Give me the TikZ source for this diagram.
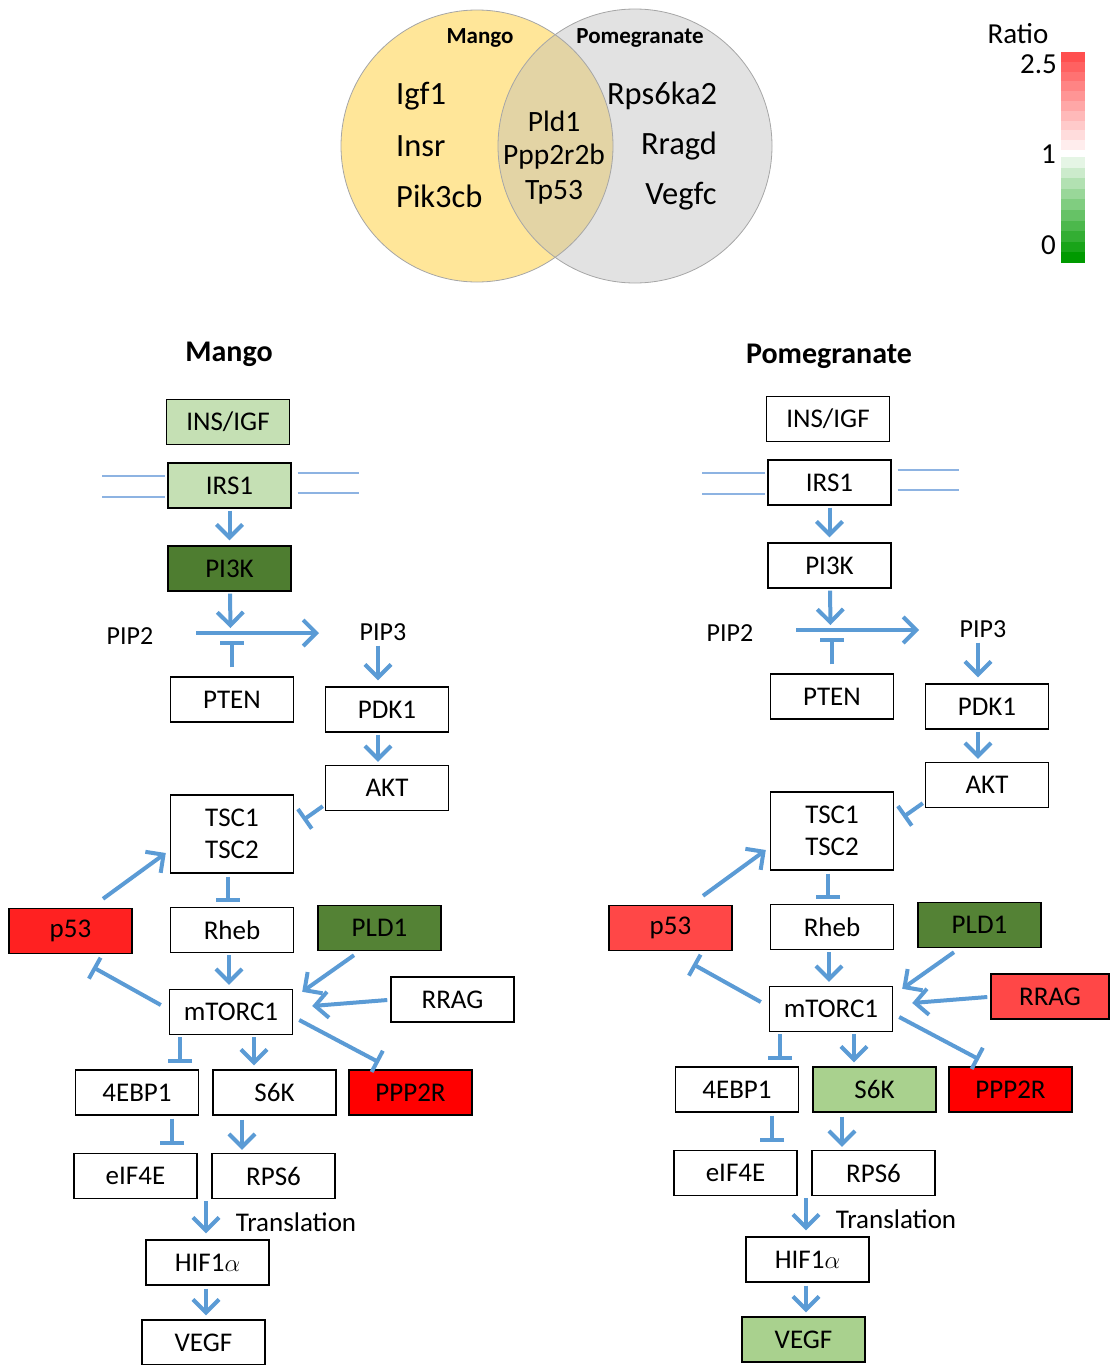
\documentclass[tikz,border=0pt]{standalone}
\usepackage{fontspec}
\setmainfont{Carlito}
\usetikzlibrary{arrows.meta,calc}
\definecolor{arrowblue}{HTML}{5B9BD5}
\definecolor{membrane}{HTML}{8DB3E2}
\definecolor{vennyellow}{HTML}{FFE699}
\definecolor{venngrey}{HTML}{E2E2E2}
\definecolor{venntan}{HTML}{E3D4A5}
\definecolor{lightgreen}{HTML}{C5E0B4}
\definecolor{midgreen}{HTML}{A9D18E}
\definecolor{darkgreen}{HTML}{548235}
\definecolor{darkergreen}{HTML}{4E7D30}
\definecolor{brightred}{HTML}{FF2121}
\definecolor{softred}{HTML}{FF4747}
\definecolor{purered}{HTML}{FF0000}
\definecolor{bartop}{HTML}{FF4F4F}
\definecolor{barbottom}{HTML}{009A00}
% mango colours
\colorlet{mcins}{lightgreen}\colorlet{mcirs}{lightgreen}\colorlet{mcpik}{darkergreen}
\colorlet{mcp53}{brightred}\colorlet{mcpld}{darkgreen}\colorlet{mcrrag}{white}
\colorlet{mcs6k}{white}\colorlet{mcppp}{purered}\colorlet{mcvegf}{white}
% pomegranate colours
\colorlet{pcins}{white}\colorlet{pcirs}{white}\colorlet{pcpik}{white}
\colorlet{pcp53}{softred}\colorlet{pcpld}{darkgreen}\colorlet{pcrrag}{softred}
\colorlet{pcs6k}{midgreen}\colorlet{pcppp}{purered}\colorlet{pcvegf}{midgreen}
\tikzset{
  box/.style={draw=black, line width=1.4pt, minimum width=123pt, minimum height=45pt,
    inner sep=0pt, align=center, text=black, font=\fontsize{27}{32}\selectfont},
  lbl/.style={inner sep=0pt, font=\fontsize{27}{30}\selectfont},
  piplbl/.style={inner sep=0pt, font=\fontsize{26}{30}\selectfont},
  sidetitle/.style={inner sep=0pt, font=\fontsize{30}{34}\selectfont\bfseries},
  act/.style={draw=arrowblue, line width=4pt, -{Straight Barb[length=13pt,width=26pt]}},
  inh/.style={draw=arrowblue, line width=4pt, -{Bar[width=24pt]}},
  memline/.style={draw=membrane, line width=1.2pt},
  mrrag/.style={},
  prrag/.style={minimum width=118pt, xshift=-2.5pt},
}
\newcommand\pathwayside[3]{% #1 prefix, #2 dx, #3 dy
  \node[box, fill=#1cins] (#1ins) at (228+#2, 422+#3) {INS/IGF};
  \node[box, fill=#1cirs] (#1irs) at (229.5+#2, 485.5+#3) {IRS1};
  \node[box, fill=#1cpik] (#1pik) at (229.5+#2, 568.5+#3) {PI3K};
  \node[box] (#1pten) at (232+#2, 699.5+#3) {PTEN};
  \node[box] (#1pdk) at (387+#2, 709.5+#3) {PDK1};
  \node[box] (#1akt) at (387+#2, 788+#3) {AKT};
  \node[box, minimum height=78pt] (#1tsc) at (232+#2, 834+#3) {TSC1\\TSC2};
  \node[box, fill=#1cp53] (#1p53) at (70.5+#2, 931+#3) {p53};
  \node[box] (#1rheb) at (232+#2, 930+#3) {Rheb};
  \node[box, fill=#1cpld] (#1pld) at (379.5+#2, 928+#3) {PLD1};
  \node[box, fill=#1crrag, #1rrag] (#1rrag) at (452.5+#2, 999.5+#3) {RRAG};
  \node[box] (#1mtor) at (231+#2, 1012+#3) {mTORC1};
  \node[box] (#1ebp) at (137+#2, 1092.5+#3) {4EBP1};
  \node[box, fill=#1cs6k] (#1s6k) at (274.5+#2, 1092.5+#3) {S6K};
  \node[box, fill=#1cppp] (#1ppp) at (410.5+#2, 1092.5+#3) {PPP2R};
  \node[box] (#1eif) at (135.5+#2, 1176+#3) {eIF4E};
  \node[box] (#1rps) at (273.5+#2, 1176+#3) {RPS6};
  \node[box] (#1hif) at (207.5+#2, 1262.5+#3) {HIF1$\alpha$};
  \node[box, fill=#1cvegf] (#1vegf) at (203.5+#2, 1342.5+#3) {VEGF};
  \node[piplbl] (#1pip2) at (130+#2, 636+#3) {PIP2};
  \node[piplbl] (#1pip3) at (383+#2, 632+#3) {PIP3};
  \node[lbl] (#1transl) at (296+#2, 1222+#3) {Translation};
  \coordinate (#1hs) at (196+#2, 633+#3);
  \coordinate (#1he) at (319+#2, 633+#3);
  \coordinate (#1tr) at (206+#2, 1201+#3);
  % membrane
  \draw[memline] ($(#1irs.west)+(-65,-9.5)$) -- ($(#1irs.west)+(-2,-9.5)$);
  \draw[memline] ($(#1irs.west)+(-65,11.5)$) -- ($(#1irs.west)+(-2,11.5)$);
  \draw[memline] ($(#1irs.east)+(6,-12.5)$) -- ($(#1irs.east)+(67,-12.5)$);
  \draw[memline] ($(#1irs.east)+(6,7.5)$) -- ($(#1irs.east)+(67,7.5)$);
  % connectors
  \draw[act] ($(#1irs.south)+(0,2)$) -- ($(#1pik.north)+(0,-5)$);
  \draw[act] ($(#1pik.south)+(0.5,2)$) -- ($(#1hs)+(34.5,-5)$);
  \draw[act] (#1hs) -- (#1he);
  \draw[inh] ($(#1pten.north)+(0,-9)$) -- ($(#1pten.north)+(0,-35)$);
  \draw[act] ($(#1pip3.south)+(-5,5)$) -- ($(#1pdk.north)+(-9,-6)$);
  \draw[act] ($(#1pdk.south)+(-9,2)$) -- ($(#1akt.north)+(-9,-3)$);
  \draw[inh] ($(#1akt.south west)+(-2,-5)$) -- ($(#1tsc.east)+(9,-14)$);
  \draw[act] ($(#1p53.north)+(32.5,-9)$) -- ($(#1tsc.west)+(-4,19)$);
  \draw[inh] ($(#1tsc.south)+(-4,3)$) -- ($(#1rheb.north)+(-4,-5)$);
  \draw[act] ($(#1rheb.south)+(-3,2)$) -- ($(#1mtor.north)+(-2,-4)$);
  \draw[act] ($(#1pld.south)+(-25.5,4)$) -- ($(#1mtor.north east)+(9,3)$);
  \draw[act] ($(#1rrag.west)+(-3,0.5)$) -- ($(#1mtor.east)+(19,-6)$);
  \draw[inh] ($(#1mtor.west)+(-8,-7)$) -- ($(#1p53.south)+(22.5,13)$);
  \draw[inh] ($(#1mtor.east)+(6,8)$) -- ($(#1ppp.north)+(-31.5,-7)$);
  \draw[inh] ($(#1mtor.south)+(-51,2)$) -- ($(#1ebp.north)+(43,-6)$);
  \draw[act] ($(#1mtor.south)+(23,2)$) -- ($(#1s6k.north)+(-20.5,-4)$);
  \draw[inh] ($(#1ebp.south)+(35,3)$) -- ($(#1eif.north)+(36.5,-8)$);
  \draw[act] ($(#1s6k.south)+(-32.5,4)$) -- ($(#1rps.north)+(-31.5,-3)$);
  \draw[act] (#1tr) -- ($(#1hif.north)+(-1.5,-6)$);
  \draw[act] ($(#1hif.south)+(-1.5,3)$) -- ($(#1vegf.north)+(2.5,-4)$);
}
\begin{document}
\begin{tikzpicture}[x=1pt,y=-1pt]
\useasboundingbox (0,0) rectangle (1110,1365);
% ---------- Venn diagram ----------
\coordinate (vennL) at (477,146);
\coordinate (vennR) at (635,146);
\fill[vennyellow] (vennL) circle[radius=136pt];
\fill[venngrey] (vennR) circle[radius=137pt];
\begin{scope}
  \clip (vennL) circle[radius=136pt];
  \fill[venntan] (vennR) circle[radius=137pt];
\end{scope}
\draw[gray!70, line width=0.8pt] (vennL) circle[radius=136pt];
\draw[gray!70, line width=0.8pt] (vennR) circle[radius=137pt];
\node[inner sep=0pt, font=\fontsize{23}{26}\selectfont\bfseries] (vMango) at (480,38) {Mango};
\node[inner sep=0pt, font=\fontsize{23}{26}\selectfont\bfseries] (vPome) at (640,38) {Pomegranate};
\tikzset{venntext/.style={inner sep=0pt, font=\fontsize{32.5}{36}\selectfont},
  venninner/.style={inner sep=0pt, font=\fontsize{29.5}{34}\selectfont}}
\node[venntext, anchor=west] (vIgf) at (396,96) {Igf1};
\node[venntext, anchor=west] (vInsr) at (396,146) {Insr};
\node[venntext, anchor=west] (vPik) at (396,196) {Pik3cb};
\node[venninner] (vPld) at (554,121) {Pld1};
\node[venninner] (vPpp) at (554,157) {Ppp2r2b};
\node[venninner] (vTp) at (554,192) {Tp53};
\node[venntext] (vRps) at (662,96) {Rps6ka2};
\node[venntext] (vRragd) at (679,146) {Rragd};
\node[venntext] (vVegfc) at (681,196) {Vegfc};
% ---------- colour bar ----------
\foreach \i in {0,...,9} {
  \pgfmathsetmacro\pct{100-10*\i}
  \fill[bartop!\pct!white] (1061,52+9.8*\i) rectangle (1085,52+9.8*\i+9.9);
  \pgfmathsetmacro\pcg{10+10*\i}
  \fill[barbottom!\pcg!white] (1061,157+10.6*\i) rectangle (1085,157+10.6*\i+10.7);
}
\tikzset{barlbl/.style={inner sep=0pt, font=\fontsize{29}{32}\selectfont}}
\node[barlbl] (ratio) at (1018,34) {Ratio};
\node[barlbl, anchor=east] (r25) at (1057,64) {2.5};
\node[barlbl, anchor=east] (r1) at (1056,154) {1};
\node[barlbl, anchor=east] (r0) at (1056,245) {0};
% ---------- pathways ----------
\node[sidetitle] (mtitle) at (229,354) {Mango};
\node[sidetitle] (ptitle) at (829,356) {Pomegranate};
\pathwayside{m}{0}{0}
\pathwayside{p}{600}{-3}
\end{tikzpicture}
\end{document}
